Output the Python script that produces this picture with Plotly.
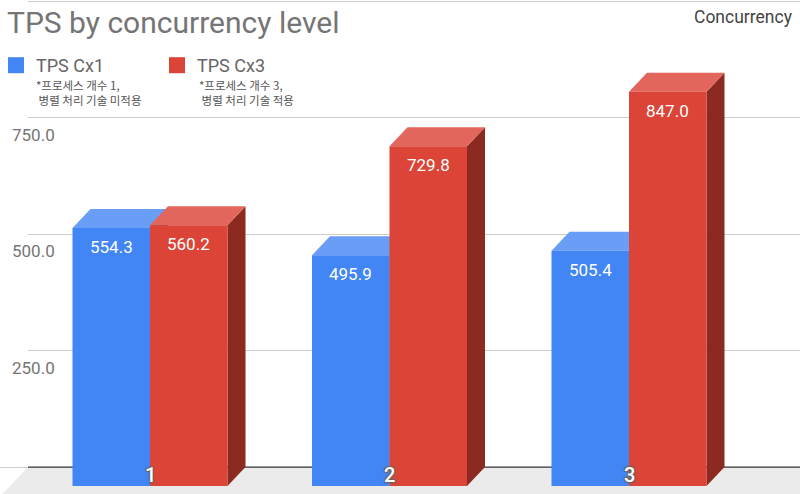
import plotly.graph_objects as go

# data
categories = ["1", "2", "3"]
series_names = ["TPS Cx1", "TPS Cx3"]
tps_cx1 = [554.3, 495.9, 505.4]
tps_cx3 = [560.2, 729.8, 847.0]
series_notes = [["*프로세스 개수 1,", " 병렬 처리 기술 미적용"],
                ["*프로세스 개수 3,", " 병렬 처리 기술 적용"]]
y_ticks = [0, 250, 500, 750, 1000]
y_tick_text = ["", "250.0", "500.0", "750.0", ""]

W, H = 800, 494
FONT = "Roboto, 'Noto Sans CJK KR', sans-serif"
KFONT = "'Noto Sans CJK KR', Roboto, sans-serif"

# pixel geometry for the fake 3d look (Google Sheets style)
px_per_x = 239.5          # px between groups
px_per_y = 0.4667         # px per TPS unit
x0_px = 150               # front centre of first group
base_px = 467             # back baseline
x_range = [-x0_px / px_per_x, (W - x0_px) / px_per_x]
y_range = [-(H - base_px) / px_per_y, 1000 + 1.5 / px_per_y]
bar_w = 77.5 / px_per_x
dx = 18 / px_per_x        # depth, x units
dy = 19 / px_per_y        # depth, y units
back_left = x_range[0] + 28 / px_per_x

styles = [
    dict(front="#4285F4", top="#6A9DF6", side="#2F5FB0", offset=-bar_w),
    dict(front="#DB4437", top="#E2665B", side="#8C2A21", offset=0.0),
]

pos = list(range(len(categories)))
fig = go.Figure()

shapes = []
# hide gridlines left of the back wall
shapes.append(dict(type="rect", xref="x", yref="y", layer="between",
                   x0=x_range[0], x1=back_left, y0=1, y1=y_range[1] + 5,
                   fillcolor="white", line_width=0))
# floor
shapes.append(dict(type="path", xref="x", yref="y", layer="between",
                   path=f"M {back_left},0 L {x_range[1] + 1},0 L {x_range[1] + 1},{-3 * dy} "
                        f"L {back_left - 3 * dx},{-3 * dy} Z",
                   fillcolor="#EBEBEB", line_width=0))
# baseline
shapes.append(dict(type="line", xref="x", yref="y", layer="between",
                   x0=back_left, x1=x_range[1] + 1, y0=0, y1=0,
                   line=dict(color="#333333", width=1.2)))

annotations = []
for vals, name, st in zip([tps_cx1, tps_cx3], series_names, styles):
    fig.add_trace(go.Bar(
        x=pos, y=vals, base=-dy, width=bar_w, offset=st["offset"],
        name=name, marker=dict(color=st["front"], line_width=0),
        hoverinfo="skip", showlegend=False,
    ))
    # legend swatch (bigger than the bar default)
    fig.add_trace(go.Scatter(
        x=[None], y=[None], mode="markers", name=name,
        marker=dict(symbol="square", size=16, color=st["front"]),
    ))
    for p, v in zip(pos, vals):
        xa = p + st["offset"]
        xb = xa + bar_w
        t = v - dy
        # side face
        shapes.append(dict(type="path", xref="x", yref="y", layer="between",
                           path=f"M {xb},{-dy} L {xb + dx},0 L {xb + dx},{v} L {xb},{t} Z",
                           fillcolor=st["side"], line_width=0))
        # top face
        shapes.append(dict(type="path", xref="x", yref="y", layer="between",
                           path=f"M {xa},{t} L {xa + dx},{v} L {xb + dx},{v} L {xb},{t} Z",
                           fillcolor=st["top"], line_width=0))
        annotations.append(dict(x=xa + bar_w / 2, y=t, xref="x", yref="y",
                                text=f"{v:.1f}", showarrow=False, yanchor="middle",
                                yshift=-19, font=dict(family=FONT, size=17, color="white")))

# category labels sitting on the floor
outline = "1px 1px 1px #666, -1px -1px 1px #666, 1px -1px 1px #666, -1px 1px 1px #666"
for p, c in zip(pos, categories):
    annotations.append(dict(x=p, y=-dy, xref="x", yref="y", text=c, showarrow=False,
                            yanchor="middle", yshift=11,
                            font=dict(family=FONT, size=20, color="white", weight=500,
                                      shadow=outline)))

# legend notes, one annotation per line
for lines, xp in zip(series_notes, [35, 198]):
    for k, line in enumerate(lines):
        annotations.append(dict(x=xp / W, y=1 - (85 + 15 * k) / H, xref="paper", yref="paper",
                                text=line.replace(" ", "&nbsp;", 1) if line.startswith(" ") else line,
                                showarrow=False, xanchor="left", yanchor="middle",
                                xshift=-1, align="left",
                                font=dict(family=KFONT, size=11.5, color="#555555")))

annotations.append(dict(x=795 / W, y=1 - 17 / H, xref="paper", yref="paper",
                        text="Concurrency", showarrow=False, xanchor="right",
                        yanchor="middle", font=dict(family=FONT, size=17.5, color="#444444")))

fig.update_layout(
    width=W, height=H,
    margin=dict(l=0, r=0, t=0, b=0, autoexpand=False),
    paper_bgcolor="white", plot_bgcolor="white",
    barmode="overlay",
    showlegend=True,
    title=dict(text="TPS by concurrency level", xref="container", yref="container",
               x=7 / W, y=1 - 22 / H, xanchor="left", yanchor="middle",
               font=dict(family=FONT, size=30, color="#757575")),
    legend=dict(orientation="h", x=-4 / W, y=1 - 47 / H, xanchor="left", yanchor="top",
                font=dict(family=FONT, size=18, color="#666666"),
                entrywidth=116, entrywidthmode="pixels", itemsizing="trace",
                bgcolor="rgba(0,0,0,0)", traceorder="normal"),
    xaxis=dict(range=x_range, showgrid=False, zeroline=False, showticklabels=False,
               showline=False),
    yaxis=dict(range=y_range, tickvals=y_ticks, ticktext=y_tick_text,
               showgrid=True, gridcolor="#CCCCCC", gridwidth=1, zeroline=False,
               ticklabelposition="inside", ticklabelshift=17, ticklabelstandoff=9,
               tickfont=dict(family=FONT, size=17, color="#757575"), showline=False),
    shapes=shapes,
    annotations=annotations,
)

fig.write_html("out.html", config={"displayModeBar": False},
               post_script="document.body.style.margin='0';")
